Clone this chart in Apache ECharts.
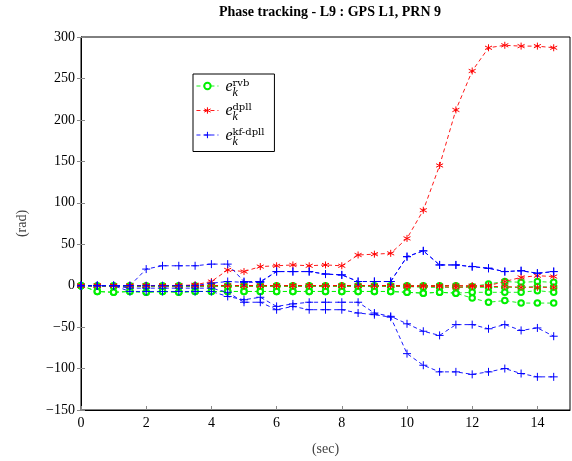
<!DOCTYPE html>
<html>
<head>
<meta charset="utf-8">
<script src="https://cdn.jsdelivr.net/npm/echarts@6/dist/echarts.min.js"></script>
<style>
  html, body { margin: 0; padding: 0; background: #fff; }
  #main { width: 572px; height: 461px; }
</style>
</head>
<body>
<div id="main"></div>
<script>
// time stamps (sec)
var times = [0, 0.5, 1, 1.5, 2, 2.5, 3, 3.5, 4, 4.5, 5, 5.5, 6, 6.5, 7, 7.5,
  8, 8.5, 9, 9.5, 10, 10.5, 11, 11.5, 12, 12.5, 13, 13.5, 14, 14.5];

// rvb (green)
var rvbA = [0, 0, 0, 0, 0, 0, 0, 0, 0, 0, 0, 0, 0, 0, 0, 0, 0, 0, 0, 0, 0, 0, 0, 0, -1, 2, 5, 4, 5, 4];
var rvbB = [0, -1, -1, -1, -1, -1, -1, -1, -1, -1, -1, -1, -1, -1, -1, -1, -1, -1, -1, -1, -1, -2, -2, -2, -2, -2, -2, -2, -1, -2];
var rvbC = [0, -7, -8, -7, -8, -7, -8, -7, -7, -7, -7, -7, -7, -7, -7, -7, -7, -7, -7, -7, -8, -9, -8, -9, -8, -8, -8, -8, -6, -8];
var rvbD = [0, -7, -8, -7, -8, -7, -8, -7, -7, -7, -7, -7, -7, -7, -7, -7, -7, -7, -7, -7, -8, -9, -8, -9, -15, -20, -18, -21, -21, -21];

// dpll (red)
var dpllA = [0, 0, 0, 0, 0, 0, 0, 1, 5, 19, 17, 23, 24, 25, 24, 25, 24, 37, 38, 39, 57, 91, 145, 212, 259, 287, 290, 289, 289, 287];
var dpllB = [0, 0, 0, 0, 0, 0, 0, 0, 0, 0, 0, 0, 0, 0, 0, 0, 0, 0, 0, 0, 0, 0, 0, 0, 0, 0, 5, 10, 12, 11];
var dpllC = [0, 0, 0, 0, 0, 0, 0, 0, 0, 0, 0, 0, 0, 0, 0, 0, 0, 0, 0, 0, -1, -1, -1, -2, -1, -1, -1, -2, -2, -2];

// kf-dpll (blue)
var kfA = [0, 0, 0, 0, 20, 24, 24, 24, 26, 26, 5, 5, 17, 17, 17, 14, 13, 5, 5, 5, 35, 42, 25, 25, 23, 21, 17, 18, 15, 17];
var kfB = [0, 0, 0, 0, 0, 0, 0, 0, 3, 5, 4, 4, 17, 17, 17, 14, 13, 5, 5, 5, 35, 42, 25, 25, 23, 21, 17, 18, 15, 17];
var kfC = [0, 0, 0, -7, -7, -7, -7, -7, -7, -13, -17, -14, -25, -22, -20, -20, -20, -20, -33, -37, -46, -55, -60, -47, -47, -52, -47, -54, -51, -61];
var kfD = [0, 0, 0, -3, -3, -3, -3, -3, -3, -8, -20, -20, -29, -25, -29, -29, -29, -33, -35, -38, -82, -96, -104, -104, -107, -104, -100, -106, -110, -110];

var yTicks = { min: -150, max: 300, step: 50 };
var xTicks = { min: 0, max: 15, step: 2 };

var serif = 'Liberation Serif';
var starPath = 'path://M5,0 L5,10 M0.67,2.5 L9.33,7.5 M0.67,7.5 L9.33,2.5';
var plusPath = 'path://M5,0 L5,10 M0,5 L10,5';

function pairs(arr) {
  return arr.map(function (v, i) { return [times[i], v]; });
}

function line(name, arr, color, symbol, size, bw) {
  return {
    name: name,
    type: 'line',
    data: pairs(arr),
    symbol: symbol,
    symbolSize: size,
    lineStyle: { color: color, width: 0.9, type: [4, 3] },
    itemStyle: { color: color, borderColor: color, borderWidth: bw },
    emphasis: { disabled: true },
    z: 2
  };
}

var G = '#00f000', R = '#ff0000', B = '#0000ff';

var series = [
  line('rvb', rvbA, G, 'emptyCircle', 5.5, 0.8),
  line('rvb', rvbB, G, 'emptyCircle', 5.5, 0.8),
  line('rvb', rvbC, G, 'emptyCircle', 5.5, 0.8),
  line('rvb', rvbD, G, 'emptyCircle', 5.5, 0.8),
  line('dpll', dpllA, R, starPath, 7, 1),
  line('dpll', dpllB, R, starPath, 7, 1),
  line('dpll', dpllC, R, starPath, 7, 1),
  line('kf', kfA, B, plusPath, 8, 1),
  line('kf', kfB, B, plusPath, 8, 1),
  line('kf', kfC, B, plusPath, 8, 1),
  line('kf', kfD, B, plusPath, 8, 1)
];

// e_k^{...}: superscript line, e line, subscript line
function mathLabel(sup) {
  return '{gap| }\n{pad| }{sup|' + sup + '}\n{e|e}\n{pad| }{sub|k}';
}
var labels = { rvb: mathLabel('rvb'), dpll: mathLabel('dpll'), kf: mathLabel('kf-dpll') };

function minus(v) { return String(v).replace('-', '\u2212'); }

var tickStyle = { show: true, inside: true, length: 4, lineStyle: { color: '#888', width: 1 } };

var chart = echarts.init(document.getElementById('main'), null, { renderer: 'canvas' });
chart.setOption({
  animation: false,
  backgroundColor: '#fff',
  title: {
    text: 'Phase tracking - L9 : GPS L1, PRN 9',
    left: 325, textAlign: 'center', top: 0,
    textStyle: { fontFamily: serif, fontSize: 14, fontWeight: 'bold', color: '#000' }
  },
  grid: {
    left: 81, top: 37, width: 489, height: 374,
    show: true, borderColor: '#000', borderWidth: 1, backgroundColor: 'transparent'
  },
  legend: {
    data: ['rvb', 'dpll', 'kf'],
    orient: 'vertical',
    left: 193, top: 74,
    backgroundColor: '#fff',
    borderColor: '#000', borderWidth: 1, borderRadius: 0,
    padding: [3, 10, 4, 3],
    itemGap: 3, itemWidth: 22, itemHeight: 8,
    lineStyle: { width: 0.9 },
    itemStyle: { borderWidth: 1 },
    formatter: function (n) { return labels[n]; },
    textStyle: {
      color: '#000',
      rich: {
        gap: { fontSize: 3, lineHeight: 6 },
        pad: { width: 9, fontSize: 3, lineHeight: 3 },
        sup: { fontFamily: 'DejaVu Serif', fontSize: 10, lineHeight: 3, color: '#000' },
        e: { fontFamily: serif, fontStyle: 'italic', fontSize: 16, lineHeight: 4, padding: [0, 0, 0, 2], color: '#000' },
        sub: { fontFamily: serif, fontStyle: 'italic', fontSize: 12, lineHeight: 8, color: '#000' }
      }
    }
  },
  xAxis: [{
    type: 'value', min: xTicks.min, max: xTicks.max, interval: xTicks.step,
    name: '(sec)', nameLocation: 'middle', nameGap: 32,
    nameTextStyle: { fontFamily: serif, fontSize: 14, color: '#444' },
    axisLine: { show: true, onZero: false, lineStyle: { color: '#000', width: 1 } },
    axisTick: tickStyle,
    axisLabel: { margin: 6, fontFamily: serif, fontSize: 14, color: '#000', showMaxLabel: false },
    splitLine: { show: false }
  }, {
    type: 'value', position: 'top', min: xTicks.min, max: xTicks.max, interval: xTicks.step,
    axisLine: { show: false }, axisTick: tickStyle,
    axisLabel: { show: false }, splitLine: { show: false }
  }],
  yAxis: [{
    type: 'value', min: yTicks.min, max: yTicks.max, interval: yTicks.step,
    name: '(rad)', nameLocation: 'middle', nameGap: 52,
    nameTextStyle: { fontFamily: serif, fontSize: 14, color: '#444' },
    axisLine: { show: true, onZero: false, lineStyle: { color: '#000', width: 1 } },
    axisTick: tickStyle,
    axisLabel: { margin: 6, fontFamily: serif, fontSize: 14, color: '#000', formatter: minus },
    splitLine: { show: false }
  }, {
    type: 'value', position: 'right', min: yTicks.min, max: yTicks.max, interval: yTicks.step,
    axisLine: { show: false }, axisTick: tickStyle,
    axisLabel: { show: false }, splitLine: { show: false }
  }],
  series: series
});
</script>
</body>
</html>
